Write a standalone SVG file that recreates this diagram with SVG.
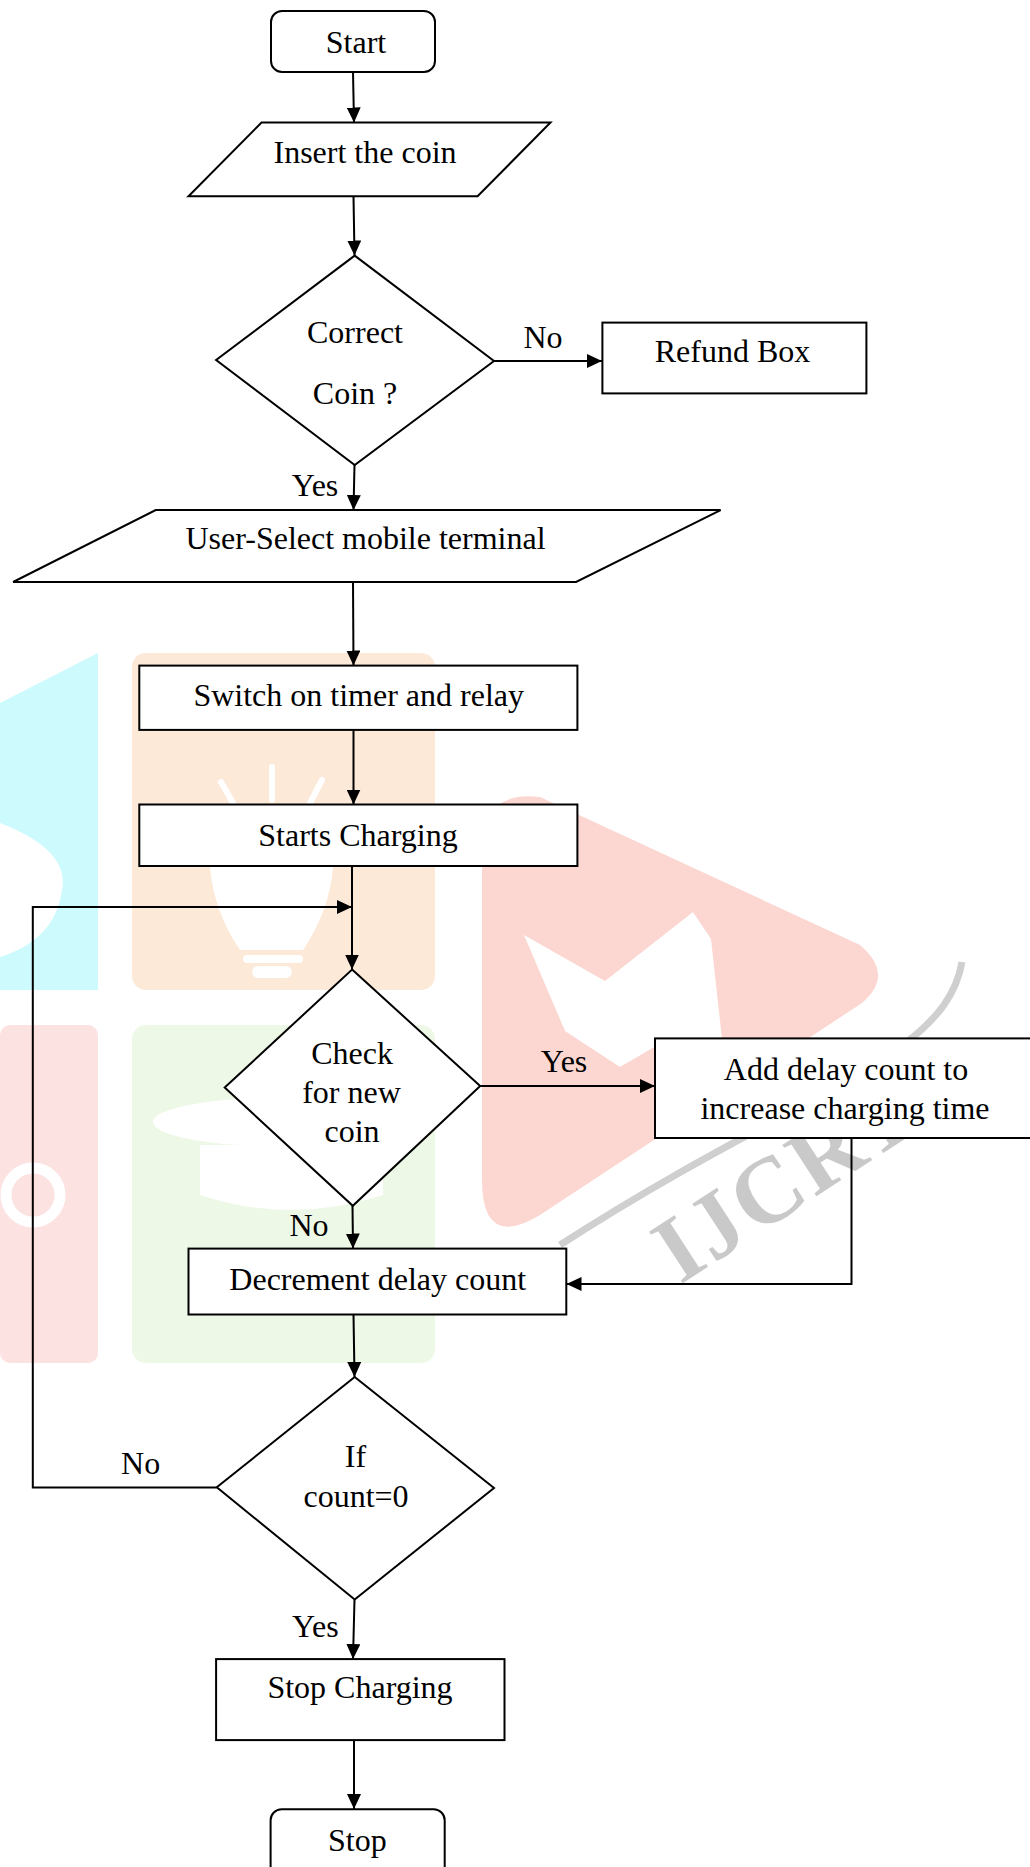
<svg xmlns="http://www.w3.org/2000/svg" width="1030" height="1867" viewBox="0 0 1030 1867">
<style>
.n{fill:#fff;stroke:#000;stroke-width:2}
.t{font-family:"Liberation Serif","Times New Roman",serif;font-size:32px;fill:#000;text-anchor:middle}
.c{fill:none;stroke:#000;stroke-width:2}
.wm{font-family:"Liberation Serif","Times New Roman",serif;font-weight:bold;font-size:94px;fill:#c9c9c9;letter-spacing:3px}
</style>
<defs>
<marker id="ah" viewBox="0 0 15 14" refX="15" refY="7" markerWidth="15" markerHeight="14" markerUnits="userSpaceOnUse" orient="auto">
<path d="M0,0 L15,7 L0,14 z" fill="#000"/>
</marker>
</defs>
<rect width="1030" height="1867" fill="#fff"/>
<g id="watermark">
<path d="M0,703 L98,653 L98,990 L0,990 Z" fill="#cdfafd"/>
<path d="M0,823 Q70,850 62,890 Q55,940 0,957 Z" fill="#fff"/>
<rect x="132" y="653" width="303" height="337" rx="14" fill="#fde9d8"/>
<g stroke="#fff" stroke-width="6" stroke-linecap="round" fill="none">
<line x1="221" y1="782" x2="233" y2="803"/>
<line x1="272" y1="767" x2="272" y2="800"/>
<line x1="322" y1="780" x2="310" y2="803"/>
</g>
<path d="M210,866 L333,866 Q330,910 303,950 L240,950 Q213,910 210,866 Z" fill="#fff"/>
<rect x="243" y="955" width="60" height="8" rx="4" fill="#fff"/>
<rect x="252" y="966" width="40" height="12" rx="6" fill="#fff"/>
<rect x="0" y="1025" width="98" height="338" rx="10" fill="#fde2e2"/>
<circle cx="33" cy="1195" r="27" fill="none" stroke="#fff" stroke-width="11"/>
<rect x="132" y="1025" width="303" height="338" rx="14" fill="#eef8e6"/>
<ellipse cx="275" cy="1122" rx="122" ry="24" fill="#fff"/>
<path d="M200,1145 L383,1145 L383,1195 Q290,1225 200,1195 Z" fill="#fff"/>
<path d="M482,850 Q482,790 540,797 L860,945 Q895,975 862,1003 L540,1215 Q482,1250 482,1180 Z" fill="#fcd6d0"/>
<path d="M524,935 L605,981 L693,912 L711,939 L722,1039 L656,1046 L620,1067 L565,1031 Z" fill="#fff"/>
<path d="M962,962 C945,1060 800,1090 560,1245" fill="none" stroke="#cfcfcf" stroke-width="7"/>
<text class="wm" x="680" y="1285" transform="rotate(-33 680 1285)">IJCRT</text>
</g>
<g id="connectors">
<line class="c" x1="353" y1="72" x2="354" y2="122.5" marker-end="url(#ah)"/>
<line class="c" x1="353.5" y1="196.5" x2="354.5" y2="255.5" marker-end="url(#ah)"/>
<line class="c" x1="494" y1="361" x2="602" y2="361" stroke-width="2.5" marker-end="url(#ah)"/>
<line class="c" x1="354.5" y1="465" x2="353.5" y2="510" marker-end="url(#ah)"/>
<line class="c" x1="353" y1="582" x2="353.5" y2="665.5" marker-end="url(#ah)"/>
<line class="c" x1="353.5" y1="730" x2="353.5" y2="804.5" marker-end="url(#ah)"/>
<line class="c" x1="352" y1="866" x2="352" y2="969.5" marker-end="url(#ah)"/>
<line class="c" x1="480" y1="1086" x2="655" y2="1086" marker-end="url(#ah)"/>
<line class="c" x1="352.5" y1="1206" x2="353" y2="1248.5" marker-end="url(#ah)"/>
<polyline class="c" points="851.5,1138 851.5,1284 566.5,1284" marker-end="url(#ah)"/>
<line class="c" x1="353.5" y1="1314.5" x2="354.5" y2="1377" marker-end="url(#ah)"/>
<polyline class="c" points="216.8,1487.5 32.8,1487.5 32.8,907 352,907" marker-end="url(#ah)"/>
<line class="c" x1="354.5" y1="1599.5" x2="353" y2="1659" marker-end="url(#ah)"/>
<line class="c" x1="354" y1="1740" x2="354" y2="1809" marker-end="url(#ah)"/>
<text class="t" x="543" y="347.5">No</text>
<text class="t" x="315" y="496">Yes</text>
<text class="t" x="564" y="1072">Yes</text>
<text class="t" x="309" y="1236">No</text>
<text class="t" x="140.6" y="1474">No</text>
<text class="t" x="315.4" y="1637">Yes</text>
</g>
<g id="start">
<rect class="n" x="271" y="11" width="164" height="61" rx="11"/>
<text class="t" x="356" y="53">Start</text>
</g>
<g id="insert">
<polygon class="n" points="261.5,122.5 550.5,122.5 477.6,196.3 188.5,196.3"/>
<text class="t" x="365" y="162.5">Insert the coin</text>
</g>
<g id="correct">
<polygon class="n" points="354.7,255.6 494,361 354.7,465 216.1,360"/>
<text class="t" x="355" y="342.5">Correct</text>
<text class="t" x="355" y="403.5">Coin ?</text>
</g>
<g id="refund">
<rect class="n" x="602.4" y="322.6" width="264" height="70.8"/>
<text class="t" x="732.5" y="361.5">Refund Box</text>
</g>
<g id="select">
<polygon class="n" points="155.7,510.1 720.6,510.1 576.1,582 13.1,582"/>
<text class="t" x="365.5" y="549">User-Select mobile terminal</text>
</g>
<g id="switch">
<rect class="n" x="139.3" y="665.6" width="438.1" height="64.3"/>
<text class="t" x="358.7" y="706">Switch on timer and relay</text>
</g>
<g id="starts">
<rect class="n" x="139.3" y="804.5" width="438.1" height="61.5"/>
<text class="t" x="358" y="845.5">Starts Charging</text>
</g>
<g id="check">
<polygon class="n" points="352.1,969.6 480.2,1086 352.8,1205.8 224.7,1087.5"/>
<text class="t" x="352" y="1064">Check</text>
<text class="t" x="351.5" y="1103">for new</text>
<text class="t" x="352" y="1142">coin</text>
</g>
<g id="add">
<rect class="n" x="655" y="1038.4" width="385" height="99.6"/>
<text class="t" x="846" y="1080">Add delay count to</text>
<text class="t" x="845" y="1119">increase charging time</text>
</g>
<g id="decrement">
<rect class="n" x="188.5" y="1248.6" width="377.8" height="65.9"/>
<text class="t" x="377.7" y="1289.7">Decrement delay count</text>
</g>
<g id="ifcount">
<polygon class="n" points="354.7,1377 494,1488 354.7,1599.5 216.8,1487.3"/>
<text class="t" x="355.4" y="1467">If</text>
<text class="t" x="356" y="1507">count=0</text>
</g>
<g id="stopcharging">
<rect class="n" x="216.1" y="1659.1" width="288.4" height="81"/>
<text class="t" x="360" y="1698">Stop Charging</text>
</g>
<g id="stop">
<rect class="n" x="270.6" y="1809.2" width="174.1" height="80" rx="11"/>
<text class="t" x="357.4" y="1850.5">Stop</text>
</g>
</svg>
